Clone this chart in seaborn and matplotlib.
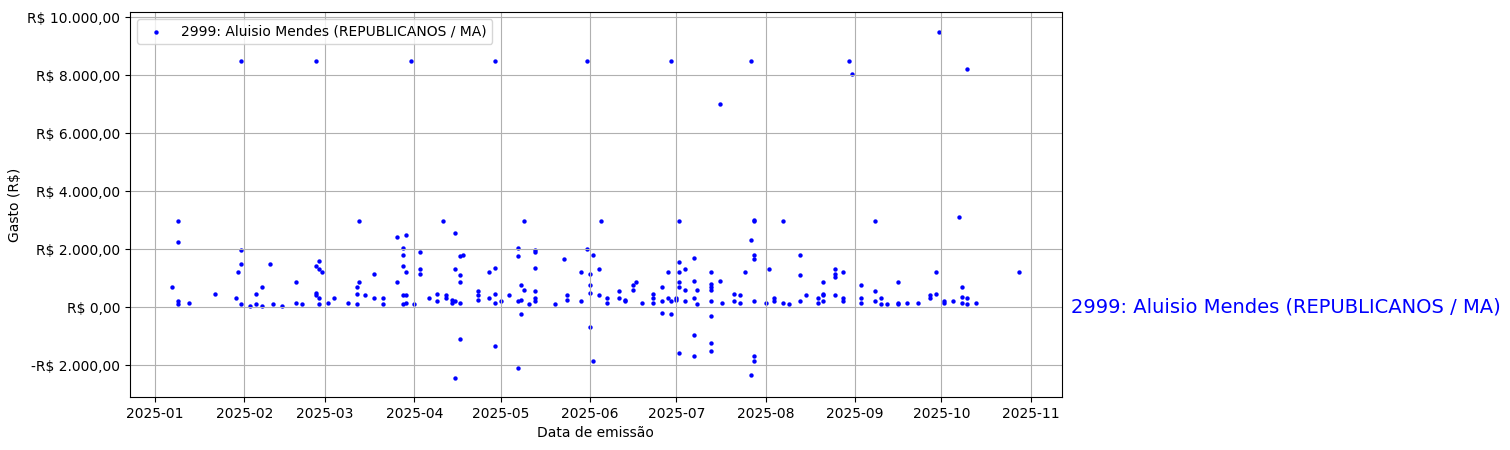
import pandas as pd
import matplotlib
matplotlib.use("Agg")
import matplotlib.pyplot as plt
import matplotlib.ticker as mticker
import seaborn as sns

label = "2999: Aluisio Mendes (REPUBLICANOS / MA)"

# (dia, valores) estimados do gráfico
gastos = [
    ("2025-01-07", [700]), ("2025-01-09", [2950, 2250, 100, 200]), ("2025-01-13", [150]),
    ("2025-01-22", [450]), ("2025-01-29", [300]), ("2025-01-30", [1200]),
    ("2025-01-31", [1950, 8500, 1500, 100]), ("2025-02-03", [50]), ("2025-02-05", [450, 100]),
    ("2025-02-07", [50, 700]), ("2025-02-10", [1500]), ("2025-02-11", [100]), ("2025-02-14", [50]),
    ("2025-02-19", [150, 850]), ("2025-02-21", [100]), ("2025-02-26", [8500, 1400, 500, 400]),
    ("2025-02-27", [1600, 1300, 300, 100]), ("2025-02-28", [1200]), ("2025-03-02", [150]),
    ("2025-03-04", [300]), ("2025-03-09", [150]), ("2025-03-12", [100, 700, 450]),
    ("2025-03-13", [2950, 850]), ("2025-03-15", [400]), ("2025-03-18", [300, 1150]),
    ("2025-03-21", [300, 100]), ("2025-03-26", [2400, 850]), ("2025-03-28", [2050, 1400, 1800, 100, 400]),
    ("2025-03-29", [2500, 1200, 400, 150]), ("2025-03-31", [8500]), ("2025-04-01", [100]),
    ("2025-04-03", [1900, 1300, 1150]), ("2025-04-06", [300]), ("2025-04-09", [450, 200]),
    ("2025-04-11", [2950]), ("2025-04-12", [400, 300]), ("2025-04-14", [250, 150]),
    ("2025-04-15", [2550, 1300, 200, -2450]), ("2025-04-17", [1750, 1100, 850, 150, -1100]),
    ("2025-04-18", [1800]), ("2025-04-23", [550, 400, 250]), ("2025-04-27", [1200, 300]),
    ("2025-04-29", [8500, 1350, 450, 150, -1350]), ("2025-05-01", [200]), ("2025-05-04", [400]),
    ("2025-05-07", [2050, 1750, 200, -2100]), ("2025-05-08", [250, 750, -250]), ("2025-05-09", [2950, 600]),
    ("2025-05-11", [100]), ("2025-05-13", [1950, 1900, 1350, 550, 300, 200]), ("2025-05-20", [100]),
    ("2025-05-23", [1650]), ("2025-05-24", [400, 250]), ("2025-05-29", [1200, 200]),
    ("2025-05-31", [2000, 8500]), ("2025-06-01", [1150, 750, 500, -700]), ("2025-06-02", [1800, -1850]),
    ("2025-06-04", [1300, 400]), ("2025-06-05", [2950]), ("2025-06-07", [150, 300]),
    ("2025-06-11", [550, 300]), ("2025-06-13", [250, 200]), ("2025-06-16", [750, 600]),
    ("2025-06-17", [850]), ("2025-06-19", [150]), ("2025-06-23", [450, 300, 150]),
    ("2025-06-26", [700, 200, -200]), ("2025-06-28", [1200, 300]), ("2025-06-29", [8500, -250, 200]),
    ("2025-07-01", [300, 250]), ("2025-07-02", [2950, 1550, 1200, 850, 700, -1600]),
    ("2025-07-04", [1300, 600, 200]), ("2025-07-07", [1700, 900, 300, -950, -1700]),
    ("2025-07-08", [600, 100]), ("2025-07-13", [1200, 800, 700, 600, 200, -300, -1250, -1500]),
    ("2025-07-16", [7000, 900]), ("2025-07-17", [150]), ("2025-07-21", [450, 200]),
    ("2025-07-23", [400, 150]), ("2025-07-25", [1200]), ("2025-07-27", [8500, 2300, -2350]),
    ("2025-07-28", [3000, 2950, 1800, 1650, 200, -1700, -1850]), ("2025-08-01", [150]),
    ("2025-08-02", [1300]), ("2025-08-04", [300, 200]), ("2025-08-07", [2950, 150]),
    ("2025-08-09", [100]), ("2025-08-13", [1800, 1100, 200]), ("2025-08-15", [400]),
    ("2025-08-19", [150, 300]), ("2025-08-21", [850, 450, 400, 200]), ("2025-08-25", [1300, 1150, 1050, 400]),
    ("2025-08-28", [1200, 300, 200]), ("2025-08-30", [8500]), ("2025-08-31", [8050]),
    ("2025-09-03", [750, 300, 150]), ("2025-09-08", [2950, 550, 200]), ("2025-09-10", [300, 100]),
    ("2025-09-12", [100]), ("2025-09-16", [850, 150, 100]), ("2025-09-19", [150]),
    ("2025-09-23", [150]), ("2025-09-27", [400, 300]), ("2025-09-29", [1200, 450]),
    ("2025-09-30", [9500]), ("2025-10-02", [150, 200]), ("2025-10-05", [200]),
    ("2025-10-07", [3100]), ("2025-10-08", [700, 350, 150]), ("2025-10-10", [100, 8200, 300]),
    ("2025-10-13", [150]), ("2025-10-28", [1200]),
]

datas = [d for d, vs in gastos for _ in vs]
valores = [v for _, vs in gastos for v in vs]
df = pd.DataFrame({"data": pd.to_datetime(datas), "valor": valores})


def brl(x, pos):
    s = f"{abs(x):,.2f}".replace(",", "X").replace(".", ",").replace("X", ".")
    return f"-R$ {s}" if x < 0 else f"R$ {s}"


fig = plt.figure(figsize=(15.1, 4.5), dpi=100)
ax = fig.add_axes([0.086, 0.118, 0.617, 0.855])
sns.scatterplot(data=df, x="data", y="valor", color="blue", s=10, linewidth=0, label=label, ax=ax)
ax.set_ylim(-3100, 10170)
ax.yaxis.set_major_formatter(mticker.FuncFormatter(brl))
ax.grid(True)
ax.set_xlabel("Data de emissão")
ax.set_ylabel("Gasto (R$)")
ax.legend(loc="upper left")
ax.text(1.01, 0, label, transform=ax.get_yaxis_transform(), color="blue", fontsize=14, va="center")
fig.savefig("out.png", dpi=100)
